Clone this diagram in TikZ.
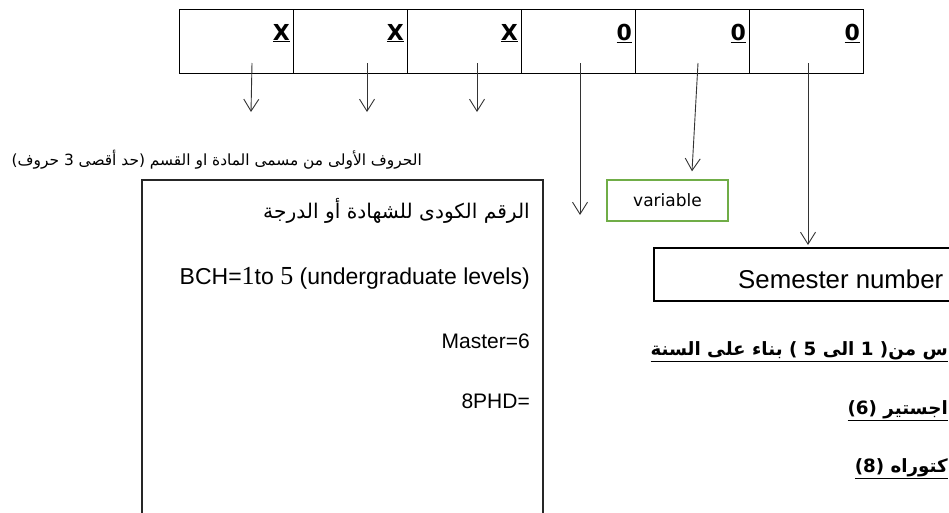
\documentclass[tikz,border=0pt]{standalone}
\usepackage{fontspec}
\setmainfont{Liberation Sans}
\newfontfamily\arabicfont[Script=Arabic]{DejaVu Sans}
\newfontfamily\boxfont{DejaVu Sans}
\newfontfamily\digitfont{Liberation Serif}
\TeXXeTstate=1
\usetikzlibrary{arrows.meta, positioning, calc}

\begin{document}
\begin{tikzpicture}[
    x=1pt, y=-1pt,
    cell/.style   = {rectangle, draw, line width=1pt, outer sep=0pt, inner sep=0pt,
                     minimum width=114pt, minimum height=64pt, anchor=north west},
    digit/.style  = {font=\boxfont\bfseries\fontsize{22}{22}\selectfont, inner sep=0pt, anchor=base east},
    panel/.style  = {rectangle, draw=black!85, line width=1.3pt, outer sep=0pt, anchor=north west},
    note/.style   = {inner sep=0pt, anchor=base east},
    artext/.style = {font=\arabicfont\fontsize{20.2}{20}\selectfont},
    entext/.style = {font=\fontsize{21}{21}\selectfont},
    rtnote/.style = {inner sep=0pt, anchor=base east, font=\arabicfont\bfseries\fontsize{18.3}{19}\selectfont},
    varbox/.style = {rectangle, draw={rgb,255:red,112;green,173;blue,71}, line width=1.4pt,
                     minimum width=121pt, minimum height=41pt,
                     font=\boxfont\fontsize{17}{17}\selectfont},
    arrow/.style  = {line width=0.9pt, draw=black!80, -{Straight Barb[length=12pt,width=15pt]}}
]
\useasboundingbox (0,0) rectangle (949,512);
\clip (0,0) rectangle (949,512);

% =====================
% Code cells (top row)
% =====================
\foreach \i/\t in {1/X,2/X,3/X,4/0,5/0,6/0} {
  \node[cell] (c\i) at ({179+114*(\i-1)},9) {};
  \node[digit] (d\i) at ($(c\i.north east)+(-3,31)$) {\underline{\t}};
}

% =====================
% Descriptions
% =====================

% Letters of the subject / department
\node[inner sep=0pt, anchor=base east, font=\arabicfont\fontsize{15.4}{15}\selectfont] (letters) at (422,165)
  {\beginR الحروف الأولى من مسمى المادة او القسم (حد أقصى 3 حروف)\endR};

% Degree code box
\node[panel, minimum width=401pt, minimum height=400pt] (degbox) at (142,180) {};
\node[note, artext] (degtitle) at ($(degbox.north east)+(-13,38)$)
  {\beginR الرقم الكودى للشهادة أو الدرجة\endR};
\node[note, font=\fontsize{23}{23}\selectfont] (bch) at ($(degbox.north east)+(-13,104)$)
  {BCH={\digitfont\fontsize{26}{26}\selectfont 1}to {\digitfont\fontsize{26}{26}\selectfont 5} (undergraduate levels)};
\node[note, entext] (master) at ($(degbox.north east)+(-13,168)$) {Master=6};
\node[note, entext] (phd) at ($(degbox.north east)+(-13,228)$) {8PHD=};

% Variable digit
\node[varbox] (var) at (667.5,200.5) {variable};

% Semester number
\node[rectangle, draw, line width=1.2pt, outer sep=0pt, anchor=north west,
      minimum width=320pt, minimum height=53pt] (sembox) at (654,248) {};
\node[inner sep=0pt, anchor=base west, font=\fontsize{25.8}{26}\selectfont] (semtext) at (738,288) {Semester number};

\node[rtnote] (year) at (948,355) {\underline{\beginR س من( 1 الى 5 ) بناء على السنة\endR}};
\node[rtnote] (msc) at (948,414) {\underline{\beginR اجستير (6)\endR}};
\node[rtnote] (dr) at (948,472) {\underline{\beginR كتوراه (8)\endR}};

% ====================================
% Connections
% ====================================
\coordinate (s1) at (252,63);  \coordinate (e1) at (251,112);
\coordinate (s2) at (367,63);  \coordinate (e2) at (367,112);
\coordinate (s3) at (477,63);  \coordinate (e3) at (477,112);
\coordinate (s4) at (580,63);  \coordinate (e4) at (580,215);
\coordinate (s5) at (698,63);  \coordinate (e5) at ($(var.north)+(24.5,-8)$);
\coordinate (s6) at (808,63);  \coordinate (e6) at ($(sembox.north west)+(154,-3)$);

\foreach \i in {1,...,6}
  \draw[arrow] (s\i) -- (e\i);

\end{tikzpicture}
\end{document}
